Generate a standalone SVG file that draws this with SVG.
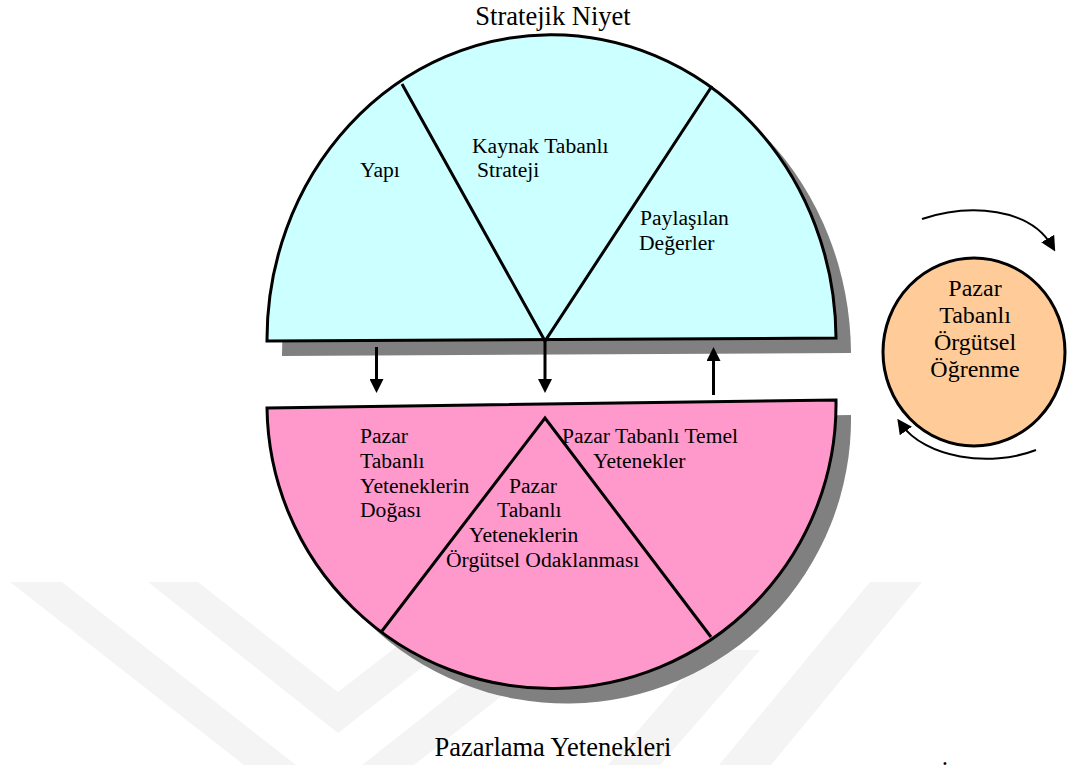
<svg xmlns="http://www.w3.org/2000/svg" width="1073" height="765" viewBox="0 0 1073 765">
  <style>
    .lbl { font-family: "Liberation Serif", "Times New Roman", serif; font-size: 21.6px; fill: #000; }
    .title { font-family: "Liberation Serif", "Times New Roman", serif; font-size: 26.5px; fill: #000; }
    .circ { font-family: "Liberation Serif", "Times New Roman", serif; font-size: 24px; fill: #000; }
    .outline { stroke: #000; stroke-width: 3; stroke-linejoin: miter; }
    .shadow { fill: #808080; stroke: none; }
    .div { fill: none; stroke: #000; stroke-width: 3; stroke-linejoin: miter; }
    .conn { fill: none; stroke: #000; stroke-width: 3; }
    .curve { fill: none; stroke: #000; stroke-width: 2; }
    .wm { fill: #f4f4f4; stroke: none; }
  </style>
  <defs>
    <marker id="head" viewBox="0 0 14 14" refX="8" refY="7" markerWidth="14" markerHeight="14" markerUnits="userSpaceOnUse" orient="auto">
      <path d="M0,0 L14,7 L0,14 Z" fill="#000"/>
    </marker>
    <marker id="headCurve" viewBox="0 0 14 14" refX="8" refY="7" markerWidth="15" markerHeight="15" markerUnits="userSpaceOnUse" orient="auto">
      <path d="M0,0 L14,7 L0,14 Z" fill="#000"/>
    </marker>
  </defs>

  <rect x="0" y="0" width="1073" height="765" fill="#fff"/>

  <!-- faint background emblem -->
  <g id="emblem">
    <polygon class="wm" points="10,582 62,582 296,765 244,765"/>
    <polygon class="wm" points="148,582 198,582 338,692 480,582 532,582 338,733"/>
    <polygon class="wm" points="362,765 414,765 560,650 508,650"/>
    <polygon class="wm" points="870,582 922,582 771,765 719,765"/>
    <polygon class="wm" points="608,765 660,765 760,650 708,650"/>
  </g>

  <!-- upper half-disc: Stratejik Niyet -->
  <g id="strategic-intent">
    <path class="shadow" d="M282,356 A280,300 0 0 1 851,353 Z"/>
    <path class="outline" fill="#CCFFFF" d="M267,341 A280,300 0 0 1 836,338 Z"/>
    <path class="div" d="M402,84 L545,341 L712,86"/>
    <text class="title" x="553" y="25" text-anchor="middle">Stratejik Niyet</text>
    <text class="lbl" x="360" y="177">Yapı</text>
    <text class="lbl" x="472" y="153">Kaynak Tabanlı</text>
    <text class="lbl" x="477" y="177">Strateji</text>
    <text class="lbl" x="640" y="225">Paylaşılan</text>
    <text class="lbl" x="639" y="250">Değerler</text>
  </g>

  <!-- lower half-disc: Pazarlama Yetenekleri -->
  <g id="marketing-capabilities">
    <path class="shadow" d="M282,423 L851,415 A280,280 0 0 1 282,423 Z"/>
    <path class="outline" fill="#FF99CC" d="M267,408 L836,400 A280,280 0 0 1 267,408 Z"/>
    <path class="div" d="M382,631 L545,418 L711,637"/>
    <text class="lbl" x="360" y="443">Pazar</text>
    <text class="lbl" x="360" y="468">Tabanlı</text>
    <text class="lbl" x="360" y="493">Yeteneklerin</text>
    <text class="lbl" x="360" y="517">Doğası</text>
    <text class="lbl" x="562" y="443">Pazar Tabanlı Temel</text>
    <text class="lbl" x="593" y="468">Yetenekler</text>
    <text class="lbl" x="509" y="493">Pazar</text>
    <text class="lbl" x="497" y="517">Tabanlı</text>
    <text class="lbl" x="469" y="542">Yeteneklerin</text>
    <text class="lbl" x="446" y="567">Örgütsel Odaklanması</text>
    <text class="title" x="553" y="756" text-anchor="middle">Pazarlama Yetenekleri</text>
  </g>

  <!-- learning cycle -->
  <g id="organizational-learning">
    <ellipse cx="974" cy="352" rx="91" ry="94" fill="#FFCC99" stroke="#000" stroke-width="3"/>
    <text class="circ" x="975" y="296" text-anchor="middle">Pazar</text>
    <text class="circ" x="975" y="323" text-anchor="middle">Tabanlı</text>
    <text class="circ" x="975" y="350" text-anchor="middle">Örgütsel</text>
    <text class="circ" x="975" y="377" text-anchor="middle">Öğrenme</text>
  </g>

  <!-- connectors -->
  <g id="connectors">
    <line class="conn" x1="376.5" y1="347" x2="376.5" y2="387" marker-end="url(#head)"/>
    <line class="conn" x1="545" y1="341" x2="545" y2="387" marker-end="url(#head)"/>
    <line class="conn" x1="713.5" y1="395" x2="713.5" y2="353" marker-end="url(#head)"/>
    <path class="curve" d="M922,219 C970,203 1030,208 1052,246" marker-end="url(#headCurve)"/>
    <path class="curve" d="M1036,450 C990,468 925,458 901,424" marker-end="url(#headCurve)"/>
  </g>

  <text class="title" x="945" y="785" text-anchor="middle">İ</text>
</svg>
